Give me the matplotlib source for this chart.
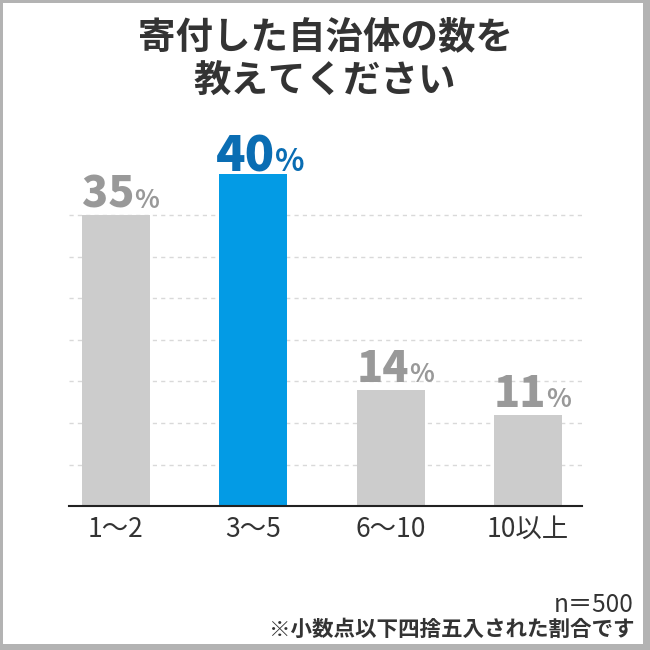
import matplotlib
matplotlib.use('Agg')
import matplotlib.pyplot as plt
from matplotlib.patches import Rectangle

plt.rcParams['font.family'] = ['Noto Sans CJK JP', 'DejaVu Sans']

# data
categories = ['1〜2', '3〜5', '6〜10', '10以上']
values = [35, 40, 14, 11]
highlight = 1
title = '寄付した自治体の数を\n教えてください'
note_n = 'n＝500'
note_round = '※小数点以下四捨五入された割合です'

W = H = 650
fig = plt.figure(figsize=(6.5, 6.5), dpi=100)
fig.patch.set_facecolor('#b3b3b3')
# white panel inside the gray frame
fig.patches.append(Rectangle((3 / W, 6 / H), 640 / W, 641 / H, transform=fig.transFigure,
                             facecolor='white', edgecolor='none', zorder=-5))

# axes: x 69..582 px, y=0 at 506 px, 8.3 px per %
ymax = 45
ax = fig.add_axes([69 / W, (H - 506) / H, 513 / W, ymax * 8.3 / H])
ax.set_zorder(2)
ax.set_facecolor('none')
x = list(range(len(values)))
colors = ['#039be5' if i == highlight else '#cccccc' for i in x]
ax.bar(x, values, width=0.495, color=colors, zorder=2)
ax.set_xlim(-0.342, 3.394)
ax.set_ylim(0, ymax)

ax.hlines([5, 10, 15, 20, 25, 30, 35], -0.342, 3.394, colors='#d9d9d9',
          linestyles=(0, (3, 3)), linewidth=1, zorder=1)

for s in ['top', 'right', 'left']:
    ax.spines[s].set_visible(False)
ax.spines['bottom'].set_color('#222222')
ax.spines['bottom'].set_linewidth(1.5)
ax.set_yticks([])
ax.set_xticks(x)
ax.set_xticklabels(categories, fontsize=19, color='#333333')
ax.tick_params(axis='x', length=0, pad=7)

for i, v in zip(x, values):
    hi = i == highlight
    col = '#0a6db3' if hi else '#999999'
    fs = 35 if hi else 31
    dy = 2 if hi else 5.5
    off = 16 if hi else 13
    ax.annotate(str(v), (i, v), xytext=(off, dy), textcoords='offset points',
                ha='right', va='baseline', fontsize=fs, fontweight='heavy', color=col)
    ax.annotate('%', (i, v), xytext=(off, dy), textcoords='offset points',
                ha='left', va='baseline', fontsize=22 if hi else 18.5, fontweight='bold', color=col)

fig.text(0.5, 1 - 59 / H, title, ha='center', va='center', fontsize=27,
         fontweight='bold', color='#333333', linespacing=1.2)
fig.text(634 / W, 1 - 605 / H, note_n, ha='right', va='center', fontsize=17.5, color='#333333')
fig.text(634 / W, 1 - 629 / H, note_round, ha='right', va='center', fontsize=15.5,
         fontweight='bold', color='#333333')

fig.savefig('out.png', dpi=100, facecolor=fig.get_facecolor())
